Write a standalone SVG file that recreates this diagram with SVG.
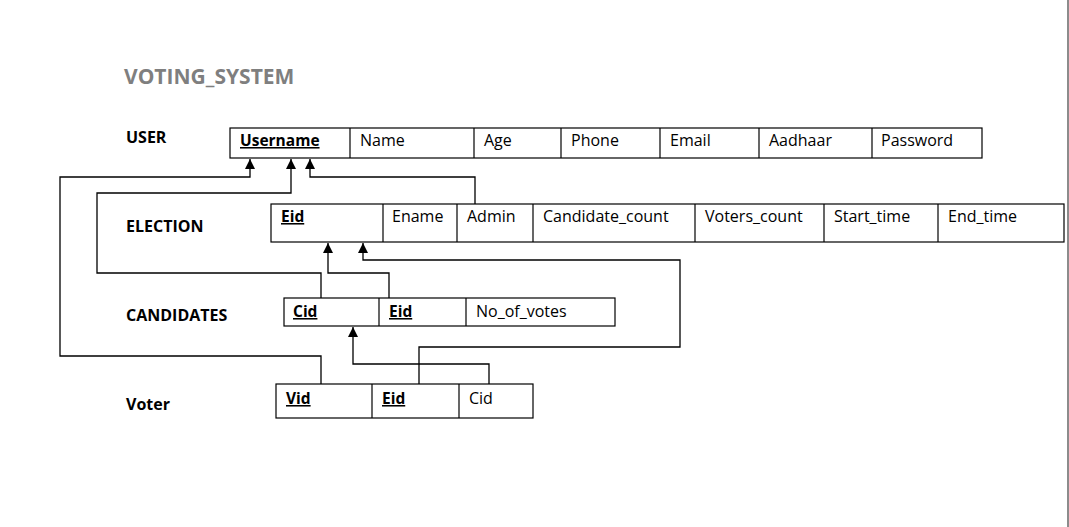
<svg xmlns="http://www.w3.org/2000/svg" width="1069" height="527" viewBox="0 0 1069 527">
<defs>
<marker id="arr" viewBox="0 0 10 10" refX="10" refY="5" markerWidth="10" markerHeight="10" markerUnits="userSpaceOnUse" orient="auto">
<path d="M0,0 L10,5 L0,10 Z" fill="#000"/>
</marker>
<style>
.box{fill:#fff;stroke:#000;stroke-width:1.2}
.div{stroke:#000;stroke-width:1.2}
.t{font-family:"Open Sans","Liberation Sans",sans-serif;font-size:16px;fill:#000}
.k{font-weight:bold;text-decoration:underline;font-size:15.5px}
.lbl{font-family:"Open Sans","Liberation Sans",sans-serif;font-size:16px;font-weight:bold;fill:#000}
.title{font-family:"Open Sans","Liberation Sans",sans-serif;font-size:21px;font-weight:bold;fill:#7f7f7f}
.c{fill:none;stroke:#000;stroke-width:1.3}
</style>
</defs>
<rect x="0" y="0" width="1069" height="527" fill="#fff"/>
<line x1="1068" y1="0" x2="1068" y2="527" stroke="#666" stroke-width="1.5"/>
<text class="title" x="124" y="84">VOTING_SYSTEM</text>
<text class="lbl" x="126" y="143">USER</text>
<text class="lbl" x="126" y="232">ELECTION</text>
<text class="lbl" x="126" y="321">CANDIDATES</text>
<text class="lbl" x="126" y="410">Voter</text>

<g id="user">
<rect class="box" x="230" y="128" width="752" height="30"/>
<line class="div" x1="350" y1="128" x2="350" y2="158"/>
<line class="div" x1="474" y1="128" x2="474" y2="158"/>
<line class="div" x1="561" y1="128" x2="561" y2="158"/>
<line class="div" x1="660" y1="128" x2="660" y2="158"/>
<line class="div" x1="759" y1="128" x2="759" y2="158"/>
<line class="div" x1="872" y1="128" x2="872" y2="158"/>
<text class="t k" x="240" y="146">Username</text>
<text class="t" x="360" y="146">Name</text>
<text class="t" x="484" y="146">Age</text>
<text class="t" x="571" y="146">Phone</text>
<text class="t" x="670" y="146">Email</text>
<text class="t" x="769" y="146">Aadhaar</text>
<text class="t" x="881" y="146">Password</text>
</g>

<g id="election">
<rect class="box" x="271" y="204" width="793" height="38"/>
<line class="div" x1="383" y1="204" x2="383" y2="242"/>
<line class="div" x1="457" y1="204" x2="457" y2="242"/>
<line class="div" x1="533" y1="204" x2="533" y2="242"/>
<line class="div" x1="695" y1="204" x2="695" y2="242"/>
<line class="div" x1="824" y1="204" x2="824" y2="242"/>
<line class="div" x1="938" y1="204" x2="938" y2="242"/>
<text class="t k" x="281" y="222">Eid</text>
<text class="t" x="392" y="222">Ename</text>
<text class="t" x="467" y="222">Admin</text>
<text class="t" x="543" y="222">Candidate_count</text>
<text class="t" x="705" y="222">Voters_count</text>
<text class="t" x="834" y="222">Start_time</text>
<text class="t" x="948" y="222">End_time</text>
</g>

<g id="candidates">
<rect class="box" x="284" y="298" width="331" height="28"/>
<line class="div" x1="379" y1="298" x2="379" y2="326"/>
<line class="div" x1="466" y1="298" x2="466" y2="326"/>
<text class="t k" x="293" y="317">Cid</text>
<text class="t k" x="389" y="317">Eid</text>
<text class="t" x="476" y="317">No_of_votes</text>
</g>

<g id="voter">
<rect class="box" x="276" y="384" width="257" height="34"/>
<line class="div" x1="372" y1="384" x2="372" y2="418"/>
<line class="div" x1="459" y1="384" x2="459" y2="418"/>
<text class="t k" x="286" y="404">Vid</text>
<text class="t k" x="382" y="404">Eid</text>
<text class="t" x="469" y="404">Cid</text>
</g>

<g id="connectors">
<polyline class="c" points="321,384 321,356 60,356 60,177 250,177 250,159" marker-end="url(#arr)"/>
<polyline class="c" points="321,298 321,273 97,273 97,193 291,193 291,159" marker-end="url(#arr)"/>
<polyline class="c" points="475,204 475,177 310,177 310,159" marker-end="url(#arr)"/>
<polyline class="c" points="389,298 389,273 328,273 328,243" marker-end="url(#arr)"/>
<polyline class="c" points="419,384 419,347 680,347 680,260 363,260 363,243" marker-end="url(#arr)"/>
<polyline class="c" points="489,384 489,364 353,364 353,327" marker-end="url(#arr)"/>
</g>
</svg>
